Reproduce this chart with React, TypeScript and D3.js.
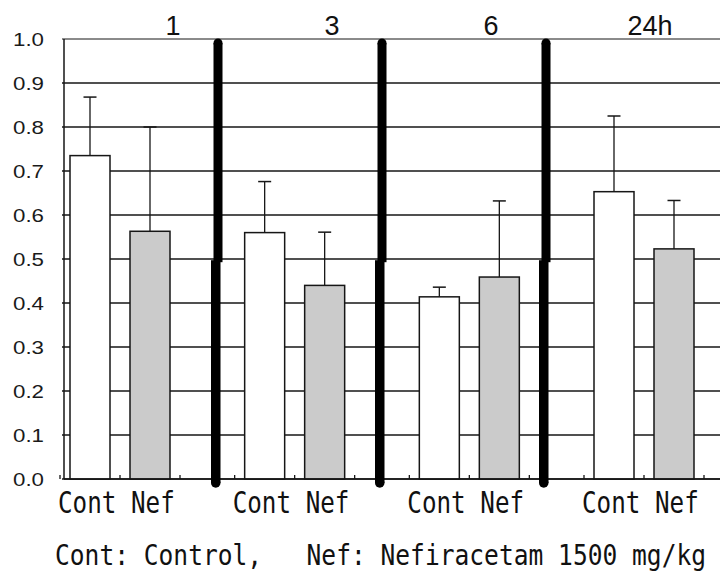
import React from 'react';
import * as d3 from 'd3';

// ---- data ----
const groups = ['1', '3', '6', '24h'];
const series = ['Cont', 'Nef'];
const contMeans = [0.735, 0.56, 0.414, 0.653];
const nefMeans = [0.563, 0.44, 0.459, 0.523];
const contSD = [0.133, 0.116, 0.022, 0.172];
const nefSD = [0.237, 0.121, 0.173, 0.11];
const yTicks = [0, 0.1, 0.2, 0.3, 0.4, 0.5, 0.6, 0.7, 0.8, 0.9, 1.0];
const caption = 'Cont: Control,   Nef: Nefiracetam 1500 mg/kg';

// ---- layout ----
const W = 720;
const H = 579;
const left = 64;
const right = 720;
const top = 39;
const bottom = 479;
const ink = '#161616';
const gray = '#cbcbcb';
const mono = '"DejaVu Sans Mono", "Liberation Mono", monospace';
const sans = '"Liberation Sans", Arial, sans-serif';
const monoAdvance = 0.602;

export default function App() {
  const y = d3.scaleLinear().domain([0, 1]).range([bottom, top]);
  const gIdx = groups.map((_, i) => i);
  const groupX = d3.scaleLinear().domain([0, groups.length - 1]).range([70, 594]);
  const sepX = d3.scaleLinear().domain([0.5, 2.5]).range([218, 546]);
  const titleX = d3.scaleLinear().domain([0, groups.length - 1]).range([173, 650]);
  const inner = d3.scaleBand<string>().domain(series).range([-10, 110]).paddingInner(1 / 3).paddingOuter(1 / 6);
  const bw = inner.bandwidth();
  const means = [contMeans, nefMeans];
  const sds = [contSD, nefSD];
  const fills = ['#ffffff', gray];
  const capHalf = 6.5;
  const sepW = 9;

  const labelFs = 30;
  const labelSx = 14.6 / (labelFs * monoAdvance);
  const capFs = 29;
  const capSx = 14.8 / (capFs * monoAdvance);

  return (
    <svg width={W} height={H} style={{ position: 'absolute', left: 0, top: 0, background: '#fff' }}>
      <rect x={0} y={0} width={W} height={H} fill="#fff" />
      {/* gridlines */}
      {yTicks.map((t) => (
        <line key={'g' + t} x1={left - 2} x2={right} y1={y(t)} y2={y(t)} stroke={ink} strokeWidth={t === 1 ? 1 : 1.4} />
      ))}
      {/* y axis */}
      <line x1={left} x2={left} y1={top} y2={bottom} stroke={ink} strokeWidth={1.5} />
      {/* y labels */}
      {yTicks.map((t) => (
        <text key={'l' + t} x={44} y={y(t)} textAnchor="end" dominantBaseline="central"
          fontFamily={sans} fontSize={19} fill="#1a1a1a" textLength={31} lengthAdjust="spacingAndGlyphs">
          {t.toFixed(1)}
        </text>
      ))}
      {/* bars */}
      {gIdx.map((gi) => (
        <g key={'b' + gi} transform={`translate(${groupX(gi)},0)`}>
          {series.map((s, si) => {
            const x0 = inner(s) as number;
            const v = means[si][gi];
            const e = v + sds[si][gi];
            const cx = x0 + bw / 2;
            return (
              <g key={s}>
                <rect x={x0} y={y(v)} width={bw} height={y(0) - y(v)} fill={fills[si]} stroke={ink} strokeWidth={1.5} />
                <line x1={cx} x2={cx} y1={y(v)} y2={y(e)} stroke={ink} strokeWidth={1.3} />
                <line x1={cx - capHalf} x2={cx + capHalf} y1={y(e)} y2={y(e)} stroke={ink} strokeWidth={1.5} />
              </g>
            );
          })}
          {/* category ticks */}
          {[-10, 50, 110].map((tx) => (
            <line key={'t' + tx} x1={tx} x2={tx} y1={y(0)} y2={y(0) - 4} stroke={ink} strokeWidth={1.3} />
          ))}
          <g transform={`translate(-12,513) scale(${labelSx},1)`}>
            <text x={0} y={0} fontFamily={mono} fontSize={labelFs} fill="#111" style={{ whiteSpace: 'pre' }}>
              {series.join(' ')}
            </text>
          </g>
        </g>
      ))}
      {/* x axis */}
      <line x1={left} x2={right} y1={bottom} y2={bottom} stroke={ink} strokeWidth={1.6} />
      {/* thick separators */}
      {gIdx.slice(0, -1).map((gi) => {
        const sx = sepX(gi + 0.5);
        const yTop = y(1) + 4;
        const yMid = y(0.495);
        const yBot = y(0) + 4;
        return (
          <g key={'s' + gi} fill="#000">
            <rect x={sx - sepW / 2} y={yTop} width={sepW} height={yMid - yTop + 1} />
            <circle cx={sx} cy={yTop} r={sepW / 2} />
            <rect x={sx - 2.5 - sepW / 2} y={yMid - 1} width={sepW + 0.5} height={yBot - yMid + 1} />
            <circle cx={sx - 2.25} cy={yBot} r={sepW / 2 + 0.25} />
          </g>
        );
      })}
      {/* group titles */}
      {gIdx.map((gi) => (
        <text key={'h' + gi} x={titleX(gi)} y={35} textAnchor="middle" fontFamily={sans} fontSize={27} fill="#111">
          {groups[gi]}
        </text>
      ))}
      {/* caption */}
      <g transform={`translate(55,565) scale(${capSx},1)`}>
        <text x={0} y={0} fontFamily={mono} fontSize={capFs} fill="#111" style={{ whiteSpace: 'pre' }}>
          {caption}
        </text>
      </g>
    </svg>
  );
}
